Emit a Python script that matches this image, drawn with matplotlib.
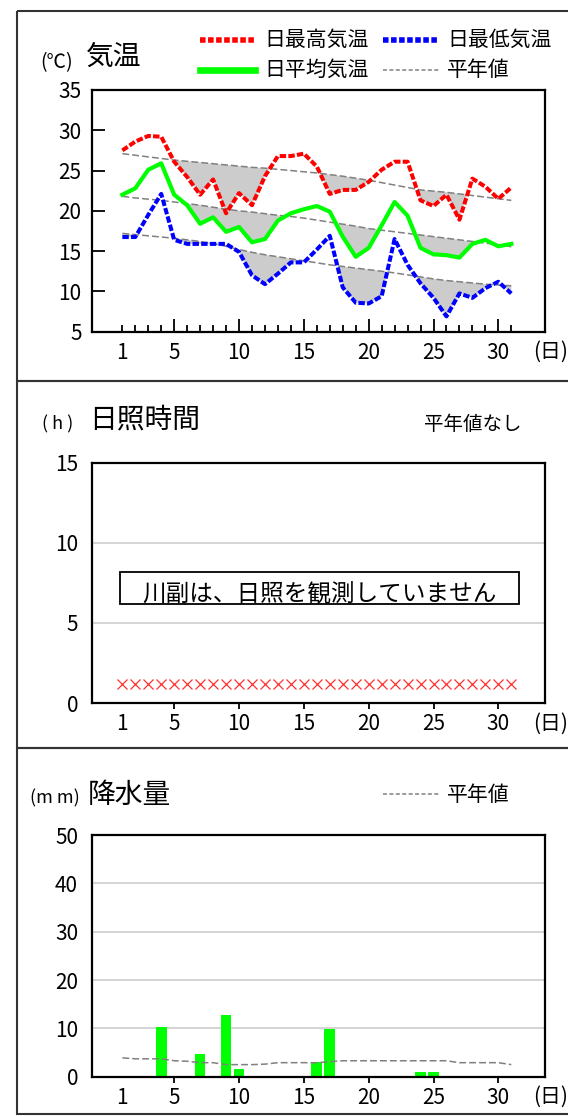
#! /usr/bin/python3
# monthly weather summary: temperature, sunshine, precipitation
import matplotlib
matplotlib.use('Agg')
import matplotlib.pyplot as plt
from matplotlib.patches import Rectangle
import numpy as np

plt.rcParams['font.family'] = ['Noto Sans CJK JP', 'DejaVu Sans']

# data
days = list(range(1, 32))
tmax = [27.5, 28.6, 29.3, 29.2, 26.1, 24.2, 22.0, 23.9, 19.7, 22.2, 20.7, 24.3, 26.8, 26.8, 27.1, 25.5,
        22.1, 22.6, 22.6, 23.6, 25.1, 26.1, 26.1, 21.3, 20.6, 22.0, 18.9, 24.0, 23.0, 21.5, 22.9]
tmean = [22.0, 22.8, 25.1, 25.9, 22.0, 20.7, 18.4, 19.2, 17.4, 18.0, 16.1, 16.5, 18.8, 19.7, 20.2, 20.6,
         19.9, 16.8, 14.3, 15.4, 18.2, 21.1, 19.4, 15.4, 14.6, 14.5, 14.2, 15.9, 16.4, 15.6, 15.9]
tmin = [16.75, 16.75, 19.5, 22.1, 16.4, 15.9, 15.9, 15.9, 15.9, 14.9, 12.0, 10.9, 12.2, 13.6, 13.6, 15.2,
        16.9, 10.5, 8.6, 8.5, 9.4, 16.5, 13.3, 11.0, 9.2, 6.9, 9.75, 9.2, 10.4, 11.2, 9.75]
norm_max = [27.1, 26.9, 26.7, 26.5, 26.3, 26.15, 26.0, 25.85, 25.7, 25.55, 25.4, 25.3, 25.15, 25.0, 24.85, 24.7,
            24.5, 24.3, 24.05, 23.8, 23.5, 23.2, 22.9, 22.6, 22.45, 22.3, 22.1, 21.9, 21.7, 21.5, 21.3]
norm_mean = [21.8, 21.6, 21.45, 21.3, 21.1, 20.9, 20.7, 20.45, 20.2, 20.0, 19.85, 19.65, 19.45, 19.3, 19.1, 18.85,
             18.6, 18.35, 18.1, 17.8, 17.6, 17.4, 17.2, 17.0, 16.8, 16.6, 16.4, 16.2, 16.0, 15.8, 15.55]
norm_min = [17.2, 17.05, 16.9, 16.75, 16.6, 16.4, 16.2, 15.95, 15.6, 15.2, 14.85, 14.55, 14.3, 14.05, 13.8, 13.55,
            13.3, 13.1, 12.9, 12.7, 12.5, 12.3, 12.05, 11.8, 11.55, 11.35, 11.2, 11.05, 10.9, 10.8, 10.7]
# sunshine not observed -> marker row
sun_missing = [1.2] * 31
rain = [0, 0, 0, 10.2, 0, 0, 4.7, 0, 12.7, 1.5, 0, 0, 0, 0, 0, 3.0,
        9.8, 0, 0, 0, 0, 0, 0, 1.0, 1.0, 0, 0, 0, 0, 0, 0]
norm_rain = [3.9, 3.7, 3.7, 3.7, 3.3, 3.2, 2.9, 2.9, 2.5, 2.5, 2.5, 2.6, 2.9, 2.9, 2.9, 2.9,
             3.1, 3.3, 3.3, 3.3, 3.3, 3.3, 3.3, 3.3, 3.3, 3.3, 2.9, 2.9, 2.9, 2.9, 2.5]

x_labels = [1, 5, 10, 15, 20, 25, 30]

W, H = 568, 1116
fig = plt.figure(figsize=(W / 100, H / 100), dpi=100)

# helper: axes rect from pixel box
def px_axes(left, top, right, bottom):
	return fig.add_axes([left / W, 1 - bottom / H, (right - left) / W, (bottom - top) / H])

RED = '#ff0000'
BLUE = '#0000ff'
GREEN = '#00ff00'
GRAY = '#808080'
FILL = '#cccccc'
TICKFS = 15

def style_xaxis(ax, inward):
	ax.set_xlim(-1.34, 33.6)
	ax.set_xticks(x_labels)
	ax.set_xticklabels([str(d) for d in x_labels], fontsize=TICKFS)
	for s in ax.spines.values():
		s.set_linewidth(1.6)
	if inward:
		ax.set_xticks([d for d in days if d not in x_labels], minor=True)
		ax.tick_params(axis='x', which='major', direction='in', length=9.5, width=1.3, pad=7.5)
		ax.tick_params(axis='x', which='minor', direction='in', length=4.8, width=1.3)
		ax.xaxis.get_major_ticks()[0].tick1line.set_markersize(4.8)
	else:
		ax.tick_params(axis='x', which='major', direction='out', length=4.5, width=1.3, pad=3)
		ax.xaxis.get_major_ticks()[0].tick1line.set_visible(False)

# ---- temperature ----
ax1 = px_axes(92, 90, 545, 331.7)
d = np.array(days)
for obs, nrm in ((tmax, norm_max), (tmean, norm_mean), (tmin, norm_min)):
	ax1.fill_between(d, obs, nrm, where=np.array(obs) < np.array(nrm), interpolate=True,
		color=FILL, linewidth=0, zorder=1)
	ax1.plot(d, nrm, color=GRAY, linewidth=1.1, dashes=(4.5, 2), zorder=2)
ax1.plot(d, tmax, color=RED, linewidth=2.9, dashes=(1.6, 0.55), zorder=3)
ax1.plot(d, tmin, color=BLUE, linewidth=2.9, dashes=(1.6, 0.55), zorder=3)
ax1.plot(d, tmean, color=GREEN, linewidth=3.0, zorder=3)
ax1.set_ylim(5, 35)
ax1.set_yticks([5, 10, 15, 20, 25, 30, 35])
ax1.set_yticklabels([str(v) for v in [5, 10, 15, 20, 25, 30, 35]], fontsize=TICKFS)
ax1.tick_params(axis='y', direction='in', length=9, width=1.3, pad=7.5)
style_xaxis(ax1, True)

# ---- sunshine ----
ax2 = px_axes(92, 462.7, 545, 703)
ax2.plot(d, sun_missing, linestyle='none', marker='x', markersize=6.5, markeredgewidth=0.9,
	color='#ff3030', zorder=3)
ax2.set_ylim(0, 15)
ax2.set_yticks([0, 5, 10, 15])
ax2.set_yticklabels(['0', '5', '10', '15'], fontsize=TICKFS)
ax2.tick_params(axis='y', length=0, pad=10)
for v in (5, 10):
	ax2.axhline(v, color='#d4d4d4', linewidth=1.4, zorder=0)
style_xaxis(ax2, False)

# ---- precipitation ----
ax3 = px_axes(92, 835, 545, 1076.7)
ax3.bar(d, rain, width=0.82, color=GREEN, zorder=2)
ax3.plot(d, norm_rain, color=GRAY, linewidth=1.1, dashes=(4.5, 2), zorder=3)
ax3.set_ylim(0, 50)
ax3.set_yticks([0, 10, 20, 30, 40, 50])
ax3.set_yticklabels(['0', '10', '20', '30', '40', '50'], fontsize=TICKFS)
ax3.tick_params(axis='y', length=0, pad=10)
for v in (10, 20, 30, 40):
	ax3.axhline(v, color='#d4d4d4', linewidth=1.4, zorder=0)
style_xaxis(ax3, False)

# ---- overlay for frames, titles and legend ----
ov = fig.add_axes([0, 0, 1, 1], facecolor='none')
ov.set_xlim(0, W)
ov.set_ylim(H, 0)
ov.axis('off')

for top, bottom in ((10.5, 380.5), (380.5, 747.5), (747.5, 1113.5)):
	ov.add_patch(Rectangle((17, top), 600, bottom - top, fill=False, edgecolor='#333333', linewidth=1.5))

# x-axis unit labels
for ybase in (351.7, 723.3, 1096.7):
	ov.text(533, ybase, '(日)', fontsize=15, va='center', ha='left')

# temperature title + legend
ov.text(57, 63, '(℃)', fontsize=14, ha='center', va='center')
ov.text(86, 57, '気温', fontsize=20, ha='left', va='center')
ov.plot([200, 255], [39.5, 39.5], color=RED, linewidth=4, dashes=(1.0, 0.45))
ov.plot([383, 438], [39.5, 39.5], color=BLUE, linewidth=4, dashes=(1.0, 0.45))
ov.plot([200, 255], [69.5, 69.5], color=GREEN, linewidth=4.8)
ov.plot([383, 440], [69.5, 69.5], color=GRAY, linewidth=1.1, dashes=(2.6, 1.6))
ov.text(264, 40, '日最高気温', fontsize=15, va='center')
ov.text(447, 40, '日最低気温', fontsize=15, va='center')
ov.text(264, 70, '日平均気温', fontsize=15, va='center')
ov.text(447, 70, '平年値', fontsize=15, va='center')

# sunshine title + note
ov.text(58, 424, '( h )', fontsize=13, ha='center', va='center')
ov.text(89, 420, '日照時間', fontsize=20, ha='left', va='center')
ov.text(424, 425, '平年値なし', fontsize=14, ha='left', va='center')
ov.add_patch(Rectangle((120, 572), 399, 32, facecolor='white', edgecolor='black', linewidth=1.3))
ov.text(319.5, 595, '川副は、日照を観測していません', fontsize=17, ha='center', va='center')

# precipitation title + legend
ov.text(55, 798, '(m m)', fontsize=13, ha='center', va='center')
ov.text(88, 795, '降水量', fontsize=20, ha='left', va='center')
ov.plot([383, 440], [794, 794], color=GRAY, linewidth=1.1, dashes=(2.6, 1.6))
ov.text(447, 795, '平年値', fontsize=15, va='center')

plt.savefig('out.png', dpi=100)
